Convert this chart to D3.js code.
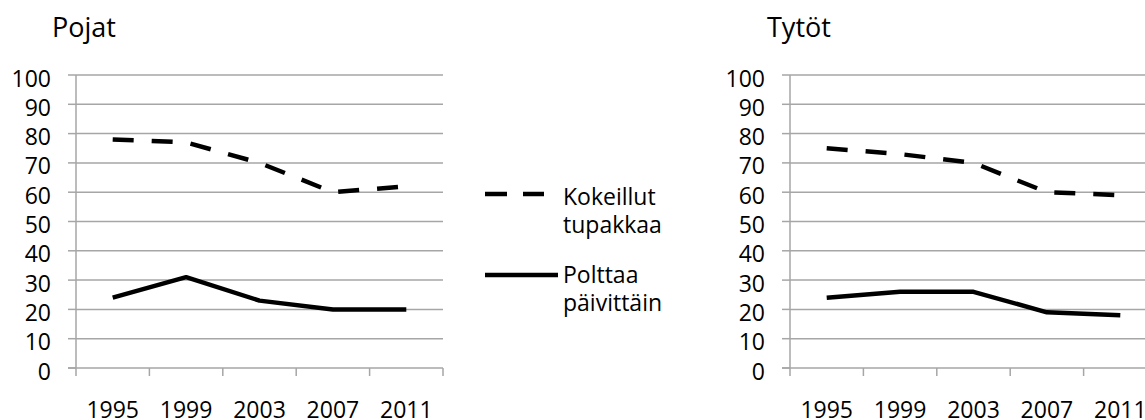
<!DOCTYPE html>
<html>
<head>
<meta charset="utf-8">
<script src="https://cdn.jsdelivr.net/npm/d3@7"></script>
<style>
  html, body { margin: 0; padding: 0; background: #fff; }
  svg { display: block; }
  text { font-family: "Open Sans", "Liberation Sans", sans-serif; fill: #000; }
</style>
</head>
<body>
<svg id="chart" width="1145" height="420"></svg>
<script>
const years = ["1995", "1999", "2003", "2007", "2011"];
const yTicks = [0, 10, 20, 30, 40, 50, 60, 70, 80, 90, 100];
const boysTried = [78, 77, 70, 60, 62];
const boysDaily = [24, 31, 23, 20, 20];
const girlsTried = [75, 73, 70, 60, 59];
const girlsDaily = [24, 26, 26, 19, 18];
const titles = ["Pojat", "Tytöt"];
const legendLabels = [["Kokeillut", "tupakkaa"], ["Polttaa", "päivittäin"]];

const svg = d3.select("#chart");
const gridColor = "#a6a6a6";
const dash = "21,18";
const fs = 23;

const y = d3.scaleLinear().domain([0, 100]).range([368, 75]);

function panel(x0, x1, title, tried, daily, titleX) {
  const x = d3.scaleBand().domain(years).range([x0, x1]).padding(0);
  const g = svg.append("g");

  g.selectAll("line.grid").data(yTicks.filter(d => d > 0)).join("line")
    .attr("x1", x0).attr("x2", x1)
    .attr("y1", d => y(d)).attr("y2", d => y(d))
    .attr("stroke", gridColor).attr("stroke-width", 1.5);

  g.selectAll("line.ytick").data(yTicks).join("line")
    .attr("x1", x0 - 8).attr("x2", x0)
    .attr("y1", d => y(d)).attr("y2", d => y(d))
    .attr("stroke", gridColor).attr("stroke-width", 1.5);

  g.append("line").attr("x1", x0 - 8).attr("x2", x1)
    .attr("y1", y(0)).attr("y2", y(0))
    .attr("stroke", gridColor).attr("stroke-width", 1.5);
  g.append("line").attr("x1", x0).attr("x2", x0)
    .attr("y1", y(100)).attr("y2", y(0) + 8)
    .attr("stroke", gridColor).attr("stroke-width", 1.5);

  const bounds = years.map(d => x(d)).concat([x(years[years.length - 1]) + x.bandwidth()]);
  g.selectAll("line.xtick").data(bounds.slice(1)).join("line")
    .attr("x1", d => d).attr("x2", d => d)
    .attr("y1", y(0)).attr("y2", y(0) + 8)
    .attr("stroke", gridColor).attr("stroke-width", 1.5);

  g.selectAll("text.ylab").data(yTicks).join("text")
    .attr("x", x0 - 25).attr("y", d => y(d) + 11.5)
    .attr("text-anchor", "end").attr("font-size", fs)
    .text(d => d);

  g.selectAll("text.xlab").data(years).join("text")
    .attr("x", d => x(d) + x.bandwidth() / 2).attr("y", 418)
    .attr("text-anchor", "middle").attr("font-size", fs)
    .text(d => d);

  g.append("text").attr("x", titleX).attr("y", 37)
    .attr("font-size", 27).text(title);

  const line = d3.line()
    .x((d, i) => x(years[i]) + x.bandwidth() / 2)
    .y(d => y(d));

  g.append("path").datum(tried).attr("d", line)
    .attr("fill", "none").attr("stroke", "#000").attr("stroke-width", 4.5)
    .attr("stroke-dasharray", dash).attr("stroke-linejoin", "round");
  g.append("path").datum(daily).attr("d", line)
    .attr("fill", "none").attr("stroke", "#000").attr("stroke-width", 4.5)
    .attr("stroke-linejoin", "round");
}

panel(76, 443, titles[0], boysTried, boysDaily, 52);
panel(790, 1157, titles[1], girlsTried, girlsDaily, 767);

const lg = svg.append("g");
lg.append("line").attr("x1", 485).attr("x2", 544).attr("y1", 194).attr("y2", 194)
  .attr("stroke", "#000").attr("stroke-width", 4.5).attr("stroke-dasharray", "22,16");
lg.append("line").attr("x1", 485).attr("x2", 558).attr("y1", 275).attr("y2", 275)
  .attr("stroke", "#000").attr("stroke-width", 4.5);
const legY = [[205, 233], [283, 311]];
legendLabels.forEach((lines, i) => {
  lines.forEach((t, j) => {
    lg.append("text").attr("x", 563).attr("y", legY[i][j])
      .attr("font-size", fs).text(t);
  });
});
</script>
</body>
</html>
